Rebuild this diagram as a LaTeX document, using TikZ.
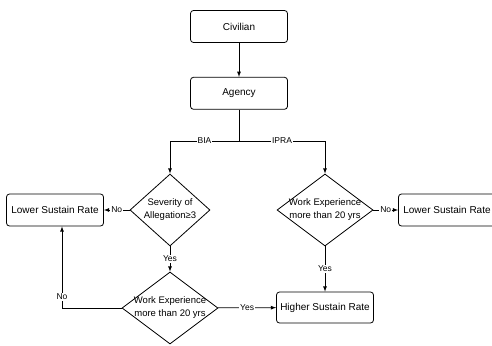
\documentclass[tikz,border=0pt]{standalone}
\usepackage{fontspec}
\setmainfont{Liberation Sans}
\usetikzlibrary{shapes.geometric, positioning}

\tikzset{
	box/.style={draw, rounded corners=3pt, minimum width=97pt, minimum height=32pt, font=\fontsize{10}{12}\selectfont},
	decision/.style={draw, diamond, inner sep=0pt, minimum width=96pt, minimum height=72pt},
	dtext/.style={align=center, font=\fontsize{9.5}{13}\selectfont},
	lbl/.style={fill=white, inner sep=1pt, font=\fontsize{8.5}{10}\selectfont},
}

\begin{document}
\begin{tikzpicture}[x=1pt, y=-1pt, >=latex, line width=0.8pt]
		\useasboundingbox (0,0) rectangle (492,345);
		
		\node[box] (civ) at (239,26.5) {Civilian};
		\node[box, below=34pt of civ] (agency) {Agency};
		\coordinate (split) at (239,141);
		
		\node[decision, minimum width=80pt] (sev) at (170,210) {};
		\node[dtext] at (sev) {Severity of\\Allegation≥3};
		\node[decision] (wexp1) at (325,210) {};
		\node[dtext] at (wexp1) {Work Experience\\more than 20 yrs};
		\node[decision] (wexp2) at (170,308) {};
		\node[dtext] at (wexp2) {Work Experience\\more than 20 yrs};
		
		\node[box] (lowL) at (55,210) {Lower Sustain Rate};
		\node[box] (lowR) at (447,210) {Lower Sustain Rate};
		\node[box, minimum height=31pt] (high) at (325,307.5) {Higher Sustain Rate};
		
		\draw (agency) -- (split);
		\draw[->] (split) -| node[lbl, pos=0.25] {BIA} (sev);
		\draw[->] (split) -| node[lbl, pos=0.25] {IPRA} (wexp1);
		
		\draw[->]
		(civ) edge (agency)
		(sev) edge node[lbl] {No} (lowL)
		(wexp1) edge node[lbl] {No} (lowR)
		(sev) edge node[lbl] {Yes} (wexp2)
		(wexp1) edge node[lbl] {Yes} (high)
		(wexp2) edge node[lbl] {Yes} (high);
		
		\draw[->] (wexp2) -| node[lbl, pos=0.57] {No} ([xshift=7pt]lowL.south);
		
\end{tikzpicture}
\end{document}
